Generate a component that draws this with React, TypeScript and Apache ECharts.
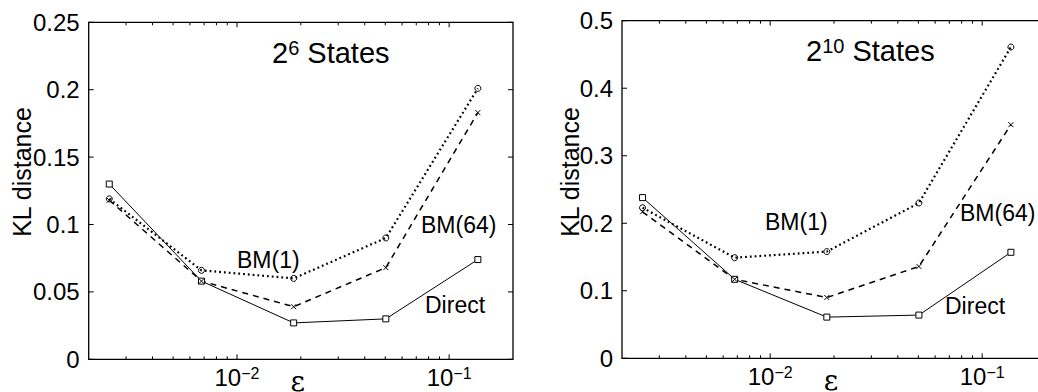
import React, { useEffect, useRef } from "react";
import * as echarts from "echarts";

// ---- data ----
const epsValues = [0.0025, 0.0068, 0.0185, 0.0503, 0.1366];

const leftDirect = [0.13, 0.058, 0.027, 0.03, 0.074];
const leftBM1 = [0.119, 0.066, 0.06, 0.09, 0.201];
const leftBM64 = [0.118, 0.058, 0.039, 0.068, 0.183];

const rightDirect = [0.238, 0.117, 0.061, 0.064, 0.157];
const rightBM1 = [0.223, 0.149, 0.158, 0.23, 0.461];
const rightBM64 = [0.217, 0.117, 0.09, 0.136, 0.346];

const xMin = 0.002;
const xMax = 0.2;
const majorXTicks = [0.01, 0.1];
const minorXTicks = [
  0.003, 0.004, 0.005, 0.006, 0.007, 0.008, 0.009, 0.02, 0.03, 0.04, 0.05,
  0.06, 0.07, 0.08, 0.09,
];
const leftYTicks = [0, 0.05, 0.1, 0.15, 0.2, 0.25];
const rightYTicks = [0, 0.1, 0.2, 0.3, 0.4, 0.5];

const seriesNames = ["Direct", "BM(1)", "BM(64)"];

const SANS = "'Liberation Sans', Arial, Helvetica, sans-serif";
const SERIF = "'DejaVu Serif', 'Liberation Serif', serif";

const xLabelFormatter = (value: number) => {
  const e = Math.round(Math.log10(value));
  if (Math.abs(value - Math.pow(10, e)) > 1e-9) return "";
  return `{b|10}{s|\u2212${-e}}`;
};

const xRich = {
  b: { fontSize: 24, fontFamily: SANS, color: "#000", lineHeight: 30, verticalAlign: "top" },
  s: { fontSize: 16, fontFamily: SANS, color: "#000", lineHeight: 14, verticalAlign: "top" },
};

function makeAxes(gridIndex: number, ticks: number[]) {
  const xAxis = {
    type: "log",
    gridIndex,
    position: "bottom",
    logBase: 10,
    min: xMin,
    max: xMax,
    axisLine: { show: false, onZero: false },
    axisTick: { show: false },
    axisLabel: {
      show: true,
      margin: 6,
      formatter: xLabelFormatter,
      rich: xRich,
      showMinLabel: false,
      showMaxLabel: false,
    },
    splitLine: { show: false },
  };
  const yAxis = {
    type: "value",
    gridIndex,
    position: "left",
    min: ticks[0],
    max: ticks[ticks.length - 1],
    interval: ticks[1] - ticks[0],
    axisLine: { show: false, onZero: false },
    axisTick: { show: false },
    axisLabel: {
      show: true,
      margin: 9,
      fontSize: 24,
      fontFamily: SANS,
      color: "#000",
    },
    splitLine: { show: false },
  };
  return { xAxis, yAxis };
}

const xMarkPath = "path://M0,0L10,10M10,0L0,10";

function makeSeries(gi: number, direct: number[], bm1: number[], bm64: number[]) {
  const toData = (vals: number[]) => epsValues.map((x, i) => [x, vals[i]]);
  const base = {
    type: "line",
    xAxisIndex: gi,
    yAxisIndex: gi,
    showSymbol: true,
    silent: true,
    z: 3,
  };
  return [
    {
      ...base,
      name: seriesNames[0],
      data: toData(direct),
      symbol: "rect",
      symbolSize: 6,
      lineStyle: { color: "#000", width: 1, type: "solid" },
      itemStyle: { color: "#fff", borderColor: "#000", borderWidth: 1 },
    },
    {
      ...base,
      name: seriesNames[1],
      data: toData(bm1),
      symbol: "circle",
      symbolSize: 6,
      lineStyle: { color: "#000", width: 2.2, type: [1.8, 3], cap: "butt" },
      itemStyle: { color: "rgba(0,0,0,0)", borderColor: "#000", borderWidth: 1 },
    },
    {
      ...base,
      name: seriesNames[2],
      data: toData(bm64),
      symbol: xMarkPath,
      symbolSize: 5,
      lineStyle: { color: "#000", width: 1.5, type: [6, 5] },
      itemStyle: { color: "rgba(0,0,0,0)", borderColor: "#000", borderWidth: 1 },
    },
  ];
}

function titleText(x: number, y: number, exp: string) {
  return {
    type: "text",
    x,
    y,
    silent: true,
    style: {
      text: `{b|2}{s|${exp}}{b| States}`,
      textAlign: "left",
      textVerticalAlign: "top",
      rich: {
        b: { fontSize: 29, fontFamily: SANS, fill: "#000", lineHeight: 32, verticalAlign: "top" },
        s: { fontSize: 20, fontFamily: SANS, fill: "#000", lineHeight: 19, verticalAlign: "top" },
      },
    },
  };
}

function label(x: number, y: number, text: string) {
  return {
    type: "text",
    x,
    y,
    silent: true,
    style: {
      text,
      font: `23px ${SANS}`,
      fill: "#000",
      textAlign: "left",
      textVerticalAlign: "middle",
    },
  };
}

function yName(x: number, y: number) {
  return {
    type: "text",
    x,
    y,
    rotation: Math.PI / 2,
    silent: true,
    style: {
      text: "KL distance",
      font: `25px ${SANS}`,
      fill: "#000",
      textAlign: "center",
      textVerticalAlign: "middle",
    },
  };
}

function ln(x1: number, y1: number, x2: number, y2: number, w = 1) {
  return {
    type: "line",
    silent: true,
    z: 10,
    shape: { x1, y1, x2, y2 },
    style: { stroke: "#000", lineWidth: w },
  };
}

// Box, ticks and x-name, placed through the chart's own axis scales.
function frame(chart: any, gi: number, yTicks: number[]) {
  const pTL = chart.convertToPixel({ gridIndex: gi }, [xMin, yTicks[yTicks.length - 1]]);
  const pBR = chart.convertToPixel({ gridIndex: gi }, [xMax, yTicks[0]]);
  const left = pTL[0], top = pTL[1], right = pBR[0], bottom = pBR[1];
  const out: any[] = [
    {
      type: "rect",
      silent: true,
      z: 10,
      shape: { x: left, y: top, width: right - left, height: bottom - top },
      style: { fill: "none", stroke: "#000", lineWidth: 1.3 },
    },
  ];
  yTicks.forEach((v) => {
    const y = chart.convertToPixel({ yAxisIndex: gi }, v);
    out.push(ln(left, y, left + 5, y));
    out.push(ln(right, y, right - 5, y));
  });
  majorXTicks.forEach((v) => {
    const x = chart.convertToPixel({ xAxisIndex: gi }, v);
    out.push(ln(x, bottom, x, bottom - 5));
    out.push(ln(x, top, x, top + 5));
  });
  minorXTicks.forEach((v) => {
    const x = chart.convertToPixel({ xAxisIndex: gi }, v);
    out.push(ln(x, bottom, x, bottom - 3));
    out.push(ln(x, top, x, top + 3));
  });
  out.push({
    type: "text",
    silent: true,
    x: (left + right) / 2 - 3,
    y: bottom + 22,
    style: {
      text: "\u03b5",
      font: `28px ${SERIF}`,
      fill: "#000",
      textAlign: "center",
      textVerticalAlign: "middle",
    },
  });
  return out;
}

export default function App() {
  const ref = useRef<HTMLDivElement>(null);
  useEffect(() => {
    document.body.style.margin = "0";
    const chart = echarts.init(ref.current!, undefined, { renderer: "svg" });
    const a0 = makeAxes(0, leftYTicks);
    const a1 = makeAxes(1, rightYTicks);
    chart.setOption({
      animation: false,
      backgroundColor: "#fff",
      grid: [
        { left: 88.7, top: 22.3, width: 424.3, height: 337, containLabel: false, outerBoundsMode: "none" },
        { left: 622, top: 20.7, width: 424, height: 337.6, containLabel: false, outerBoundsMode: "none" },
      ],
      xAxis: [a0.xAxis, a1.xAxis],
      yAxis: [a0.yAxis, a1.yAxis],
      series: [
        ...makeSeries(0, leftDirect, leftBM1, leftBM64),
        ...makeSeries(1, rightDirect, rightBM1, rightBM64),
      ],
    });
    chart.setOption({
      graphic: [
        titleText(272, 38, "6"),
        titleText(806, 36, "10"),
        yName(22, 172),
        yName(570, 172),
        label(237, 260, "BM(1)"),
        label(421, 225, "BM(64)"),
        label(425, 305, "Direct"),
        label(765, 222, "BM(1)"),
        label(960, 213, "BM(64)"),
        label(945, 306, "Direct"),
        ...frame(chart, 0, leftYTicks),
        ...frame(chart, 1, rightYTicks),
      ],
    });
    return () => chart.dispose();
  }, []);
  return (
    <div
      ref={ref}
      style={{ position: "absolute", left: 0, top: 0, width: 1038, height: 392 }}
    />
  );
}
